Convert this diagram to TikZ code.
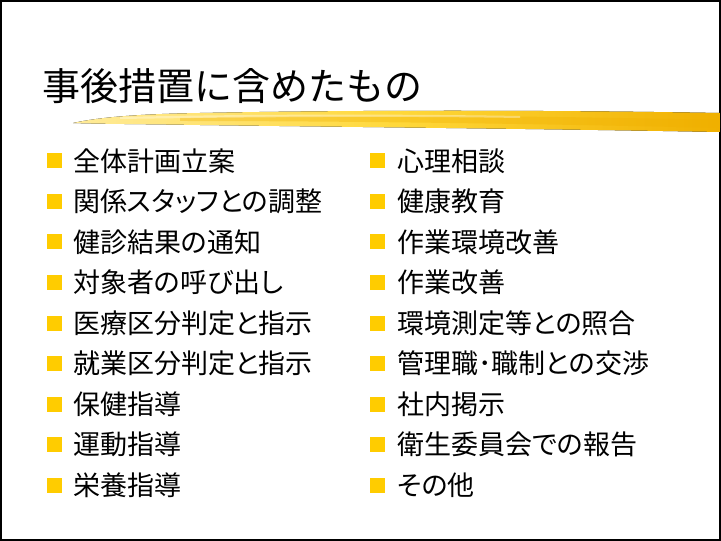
\documentclass[tikz,border=0pt]{standalone}
\usepackage{fontspec}
\setmainfont{Noto Sans CJK JP}
\newfontfamily\cjkp{Noto Sans CJK JP}[RawFeature=+palt]
\definecolor{bulletc}{HTML}{FFCC00}
\definecolor{brushA}{HTML}{FFEB99}
\definecolor{brushB}{HTML}{FFD83A}
\definecolor{brushC}{HTML}{F0B000}
\tikzset{
  item/.style={anchor=west,inner sep=0pt,font=\cjkp\fontsize{27bp}{32bp}\selectfont},
  titletext/.style={anchor=west,inner sep=0pt,font=\fontsize{38bp}{44bp}\selectfont},
  bsq/.style={fill=bulletc}
}
\begin{document}
\begin{tikzpicture}[x=1bp,y=-1bp]
\useasboundingbox (0,0) rectangle (721,541);
\fill[white] (0,0) rectangle (721,541);
\draw[line width=1.2bp] (1,1) rectangle (720,540);
% brush stroke
\fill[left color=brushA, right color=brushC, middle color=brushB]
  (73,123) .. controls (100,117) and (140,114) .. (200,113)
  .. controls (350,110) and (550,110) .. (720,113)
  -- (720,132) .. controls (560,129) and (350,127) .. (200,125)
  .. controls (140,124) and (100,124) .. cycle;
\fill[brushC,opacity=0.35] (180,118) .. controls (350,114) and (550,116) .. (720,120)
  -- (720,128) .. controls (550,124) and (350,121) .. (180,121) -- cycle;
\fill[white,opacity=0.35] (120,117) .. controls (250,114) and (400,114) .. (520,116)
  -- (520,118) .. controls (400,116) and (250,117) .. (120,119) -- cycle;
\node[titletext] (title) at (42,86.5) {事後措置に含めたもの};
% left column
\foreach \t [count=\i] in {全体計画立案,関係スタッフとの調整,健診結果の通知,対象者の呼び出し,医療区分判定と指示,就業区分判定と指示,保健指導,運動指導,栄養指導}{
  \pgfmathsetmacro\yy{161+(\i-1)*40.5}
  \fill[bsq] (47,\yy-7.5) rectangle ++(15,15);
  \node[item] (l\i) at (73,\yy) {\t};
}
% right column
\foreach \t [count=\i] in {心理相談,健康教育,作業環境改善,作業改善,環境測定等との照合,管理職･職制との交渉,社内掲示,衛生委員会での報告,その他}{
  \pgfmathsetmacro\yy{161+(\i-1)*40.5}
  \fill[bsq] (370,\yy-7.5) rectangle ++(15,15);
  \node[item] (r\i) at (397,\yy) {\t};
}
\end{tikzpicture}
\end{document}
